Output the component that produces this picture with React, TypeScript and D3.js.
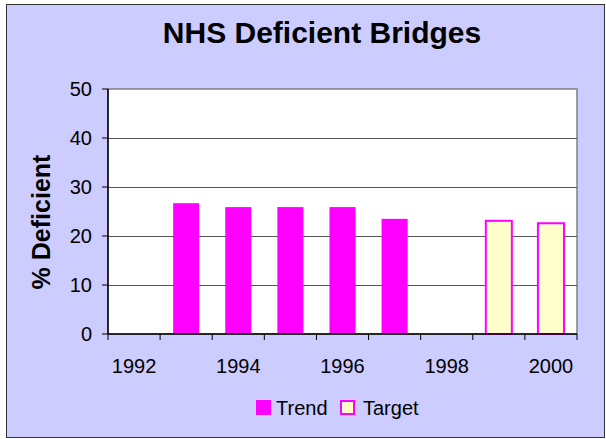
import React from 'react';
import { scaleBand, scaleLinear } from 'd3';

// values
const years = ['1992', '1993', '1994', '1995', '1996', '1997', '1998', '1999', '2000'];
const trendValues: Array<number | null> = [null, 26.7, 25.9, 25.9, 25.9, 23.5, null, null, null];
const targetValues: Array<number | null> = [null, null, null, null, null, null, null, 23.1, 22.6];
const yTicks = [0, 10, 20, 30, 40, 50];
const xLabels = ['1992', '1994', '1996', '1998', '2000'];

const svgWidth = 606;
const svgHeight = 439;
const plot = { left: 108, top: 89, right: 577, bottom: 334 };
const fontFamily = 'Arial, "Liberation Sans", sans-serif';

const App = () => {
    let x = scaleBand<string>().domain(years).range([plot.left, plot.right]).paddingInner(0).paddingOuter(0);
    let y = scaleLinear().domain([0, 50]).range([plot.bottom, plot.top]);
    let barWidth = x.bandwidth() * 0.5;
    let barOffset = (x.bandwidth() - barWidth) / 2;

    let boundaries = years.map(d => x(d) as number).concat([plot.right]);

    return (
        <svg width={svgWidth} height={svgHeight} style={{ position: 'absolute', left: 0, top: 0 }}>
            <rect x={6.5} y={4.5} width={598} height={433} fill='#CCCCFF' stroke='#333' strokeWidth={1} />
            <text x={322} y={43} textAnchor='middle' fontFamily={fontFamily} fontWeight='bold' fontSize={30}>NHS Deficient Bridges</text>

            <rect x={plot.left} y={plot.top} width={plot.right - plot.left} height={plot.bottom - plot.top} fill='#FFFFFF' stroke='#808080' strokeWidth={1.5} />
            {yTicks.filter(t => t > 0 && t < 50).map(t =>
                <line key={'g' + t} x1={plot.left} x2={plot.right} y1={Math.round(y(t)) + 0.5} y2={Math.round(y(t)) + 0.5} stroke='#555' strokeWidth={1} />
            )}

            <g>
                {trendValues.map((v, i) => v == null ? null :
                    <rect key={'t' + i} x={(x(years[i]) as number) + barOffset} y={y(v)} width={barWidth} height={y(0) - y(v)} fill='#FF00FF' />
                )}
                {targetValues.map((v, i) => v == null ? null :
                    <rect key={'g' + i} x={(x(years[i]) as number) + barOffset} y={y(v)} width={barWidth} height={y(0) - y(v)} fill='#FFFFCC' stroke='#FF00FF' strokeWidth={2} />
                )}
            </g>

            <line x1={plot.left} x2={plot.left} y1={plot.top} y2={plot.bottom} stroke='#000' strokeWidth={1.5} />
            <line x1={plot.left} x2={plot.right} y1={plot.bottom} y2={plot.bottom} stroke='#000' strokeWidth={1.5} />
            {yTicks.map(t =>
                <g key={'y' + t}>
                    <line x1={plot.left - 6} x2={plot.left} y1={y(t)} y2={y(t)} stroke='#000' strokeWidth={1} />
                    <text x={92} y={y(t) + 7} textAnchor='end' fontFamily={fontFamily} fontSize={20}>{t}</text>
                </g>
            )}
            {boundaries.map((b, i) =>
                <line key={'xt' + i} x1={b} x2={b} y1={plot.bottom} y2={plot.bottom + 6} stroke='#000' strokeWidth={1} />
            )}
            {xLabels.map(l =>
                <text key={l} x={(x(l) as number) + x.bandwidth() / 2} y={373} textAnchor='middle' fontFamily={fontFamily} fontSize={20}>{l}</text>
            )}

            <text transform='translate(50,222) rotate(-90)' textAnchor='middle' fontFamily={fontFamily} fontWeight='bold' fontSize={25}>% Deficient</text>

            <rect x={256} y={400} width={15} height={15} fill='#FF00FF' />
            <text x={276} y={415} fontFamily={fontFamily} fontSize={20}>Trend</text>
            <rect x={341} y={401} width={13} height={13} fill='#FFFFCC' stroke='#FF00FF' strokeWidth={2} />
            <text x={363} y={415} fontFamily={fontFamily} fontSize={20}>Target</text>
        </svg>
    );
}

export default App;
